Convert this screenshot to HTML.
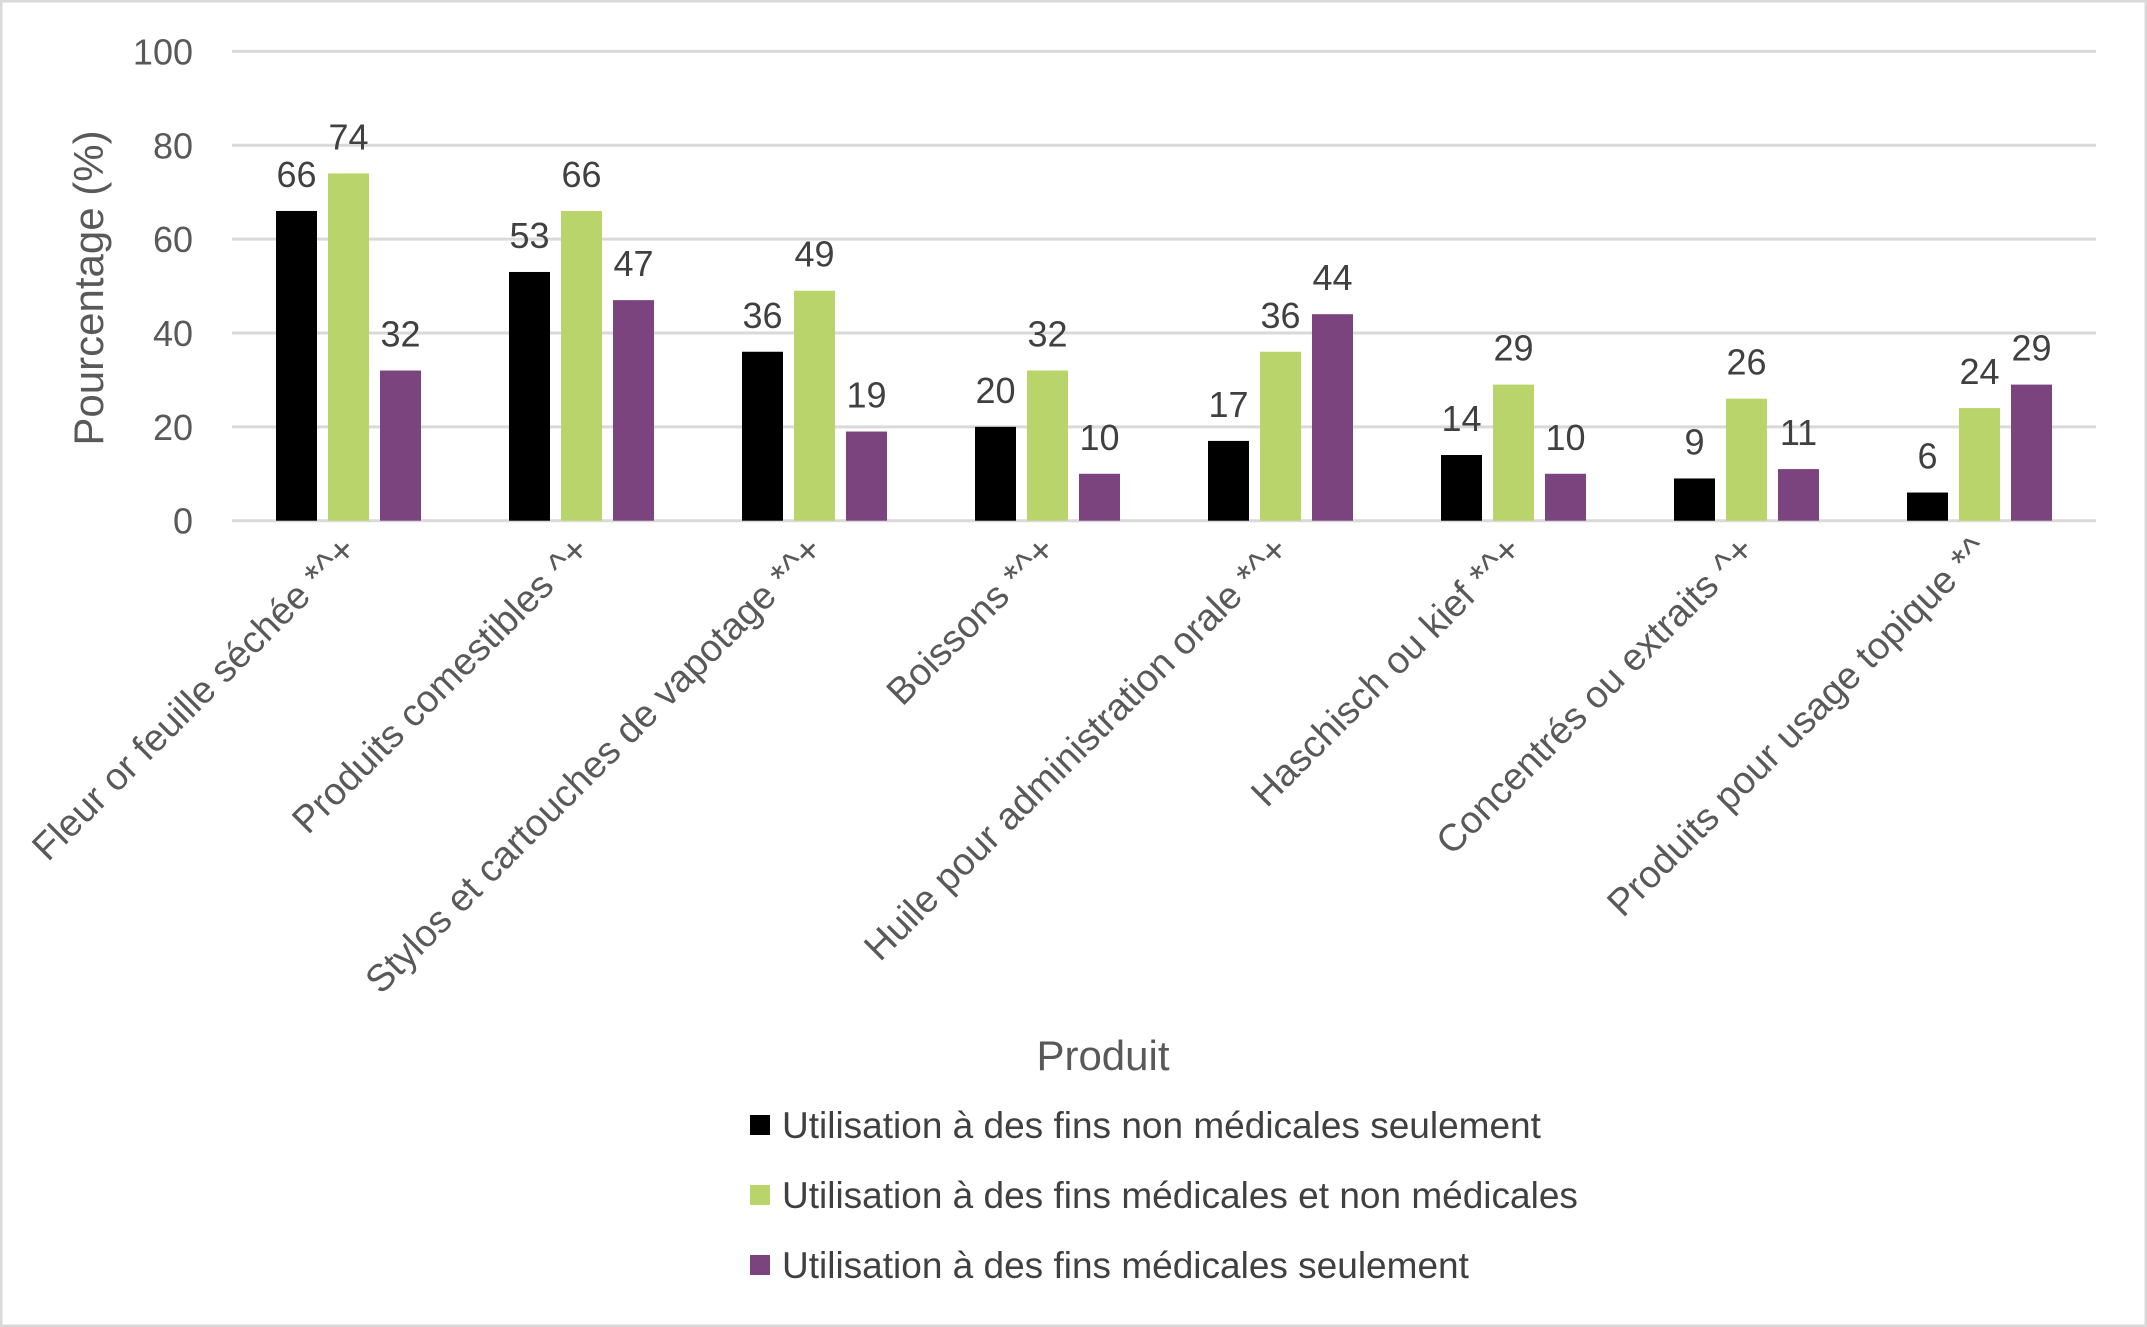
<!DOCTYPE html>
<html><head><meta charset="utf-8"><style>
body{margin:0;background:#fff}
svg{display:block;font-family:"Liberation Sans",sans-serif}
</style></head><body>
<svg width="2147" height="1327" viewBox="0 0 2147 1327">
<rect x="1" y="1" width="2145" height="1325" fill="#fff" stroke="#d9d9d9" stroke-width="3"/>
<g id="grid"></g><g id="bars"></g><g id="labels"></g><g id="cats"></g>
<text x="103" y="288" transform="rotate(-90 103 288)" text-anchor="middle" font-size="42" fill="#595959">Pourcentage (%)</text>
<text x="1103" y="1070" text-anchor="middle" font-size="42" fill="#595959">Produit</text>
<g id="legend"></g>
</svg>
<script>
const categories=["Fleur or feuille séchée *^+","Produits comestibles ^+","Stylos et cartouches de vapotage *^+","Boissons *^+","Huile pour administration orale *^+","Haschisch ou kief *^+","Concentrés ou extraits ^+","Produits pour usage topique *^"];
const nonMedical=[66,53,36,20,17,14,9,6];
const both=[74,66,49,32,36,29,26,24];
const medical=[32,47,19,10,44,10,11,29];
const seriesNames=["Utilisation à des fins non médicales seulement","Utilisation à des fins médicales et non médicales","Utilisation à des fins médicales seulement"];
const ticks=[0,20,40,60,80,100];
const colors=["#000000","#b9d46b","#7b447e"];
const NS="http://www.w3.org/2000/svg";
const L=232,R=2096,Y0=520.7,Y100=51.4;
const y=v=>Y0-(Y0-Y100)*v/100;
const bw=(R-L)/categories.length;
const xc=i=>L+bw*(i+0.5);
function mk(tag,attrs,parent,txt){const e=document.createElementNS(NS,tag);for(const k in attrs)e.setAttribute(k,attrs[k]);if(txt!==undefined)e.textContent=txt;document.getElementById(parent).appendChild(e);return e;}
ticks.forEach(t=>{
 const l=mk('line',{x1:L,x2:R,y1:y(t),y2:y(t),stroke:'#d9d9d9','stroke-width':3},'grid');
 
 
 const tx=mk('text',{x:193,y:y(t)+13,'text-anchor':'end','font-size':36,fill:'#595959'},'grid',String(t));
 
 
});
const series=[nonMedical,both,medical];
categories.forEach((c,i)=>{
 series.forEach((s,j)=>{
  const cx=xc(i)+(j-1)*52;
  const r=mk('rect',{x:cx-20.5,y:y(s[i]),width:41,height:Y0-y(s[i]),fill:colors[j]},'bars');
  
  
  const t=mk('text',{x:cx,y:y(s[i])-24,'text-anchor':'middle','font-size':36,fill:'#404040'},'labels',String(s[i]));
  
  
 });
 const px=xc(i)+10,py=552;
 const ct=mk('text',{x:px,y:py,'text-anchor':'end','font-size':38,fill:'#595959',transform:`rotate(-45 ${px} ${py})`},'cats',c);
 
 
});
seriesNames.forEach((n,j)=>{
 const yy=1125+j*70;
 const r=mk('rect',{x:750,y:yy-10,width:20,height:20,fill:colors[j]},'legend');
 
 
 const t=mk('text',{x:782,y:yy+13,'font-size':37,fill:'#404040'},'legend',n);
 
 
});
</script>
</body></html>
